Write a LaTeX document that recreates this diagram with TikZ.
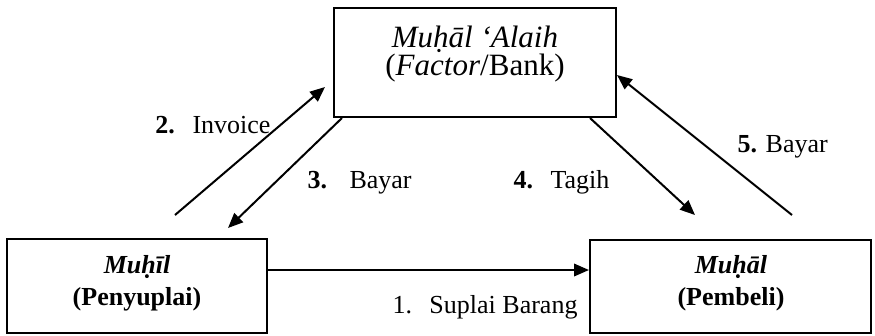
\documentclass[tikz,border=0pt]{standalone}
\usepackage{fontspec}
\setmainfont{Liberation Serif}
\usetikzlibrary{arrows.meta}
\tikzset{
  box/.style={draw, line width=0.8pt, inner sep=0pt},
  arr/.style={line width=0.8pt, -{Triangle[length=6pt,width=5pt]}},
  lbl/.style={anchor=base west, inner sep=0pt, font=\fontsize{10.4}{12.5}\selectfont},
  boxtxt/.style={anchor=base, inner sep=0pt, font=\fontsize{10.4}{12.5}\selectfont\bfseries}
}
\begin{document}
\begin{tikzpicture}[x=0.4pt,y=-0.4pt]
\useasboundingbox (0,0) rectangle (875,335);
\node[box, minimum width=112.8pt, minimum height=43.6pt] (bank) at (475,62.5) {};
\node[box, minimum width=104pt, minimum height=37.6pt] (supplier) at (137,286) {};
\node[box, minimum width=112.4pt, minimum height=37.2pt] (buyer) at (730.5,286.5) {};
\node[boxtxt, font=\fontsize{12.4}{14}\selectfont] (banka) at (475,47) {\textit{Muḥāl ‘Alaih}};
\node[boxtxt, font=\fontsize{12.4}{14}\selectfont] (bankb) at (475,75) {(\textit{Factor}/Bank)};
\node[boxtxt] (suppliera) at (137,273) {\textit{Muḥīl}};
\node[boxtxt] (supplierb) at (137,305) {(Penyuplai)};
\node[boxtxt] (buyera) at (731,273) {\textit{Muḥāl}};
\node[boxtxt] (buyerb) at (731,305) {(Pembeli)};
\coordinate (s2) at (175,215);
\coordinate (e2) at (325,87);
\coordinate (e3) at (228,228);
\coordinate (e4) at (695,215);
\coordinate (s5) at (792,215);
\draw[arr] (supplier.east |- 0,270) -- (buyer.west |- 0,270);
\draw[arr] (s2) -- (e2);
\draw[arr] (342,0 |- bank.south) -- (e3);
\draw[arr] (590,0 |- bank.south) -- (e4);
\draw[arr] (s5) -- (bank.east |- 0,75);
\node[lbl] (l1) at (392,313) {1.\hspace{7pt}Suplai Barang};
\node[lbl] (l2) at (155,133) {\textbf{2.}\hspace{7pt}Invoice};
\node[lbl] (l3) at (307,188) {\textbf{3.}\hspace{9pt}Bayar};
\node[lbl] (l4) at (513,188) {\textbf{4.}\hspace{7pt}Tagih};
\node[lbl] (l5) at (737,152) {\textbf{5.} Bayar};
\end{tikzpicture}
\end{document}
